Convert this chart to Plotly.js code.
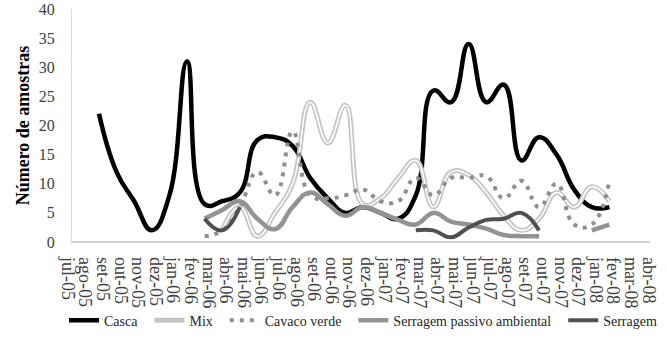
<!DOCTYPE html>
<html>
<head>
<meta charset="utf-8">
<script src="https://cdn.plot.ly/plotly-3.0.1.min.js"></script>
<style>html,body{margin:0;padding:0;background:#fff;}#chart{width:667px;height:340px;}</style>
</head>
<body>
<div id="chart"></div>
<script>
const months = ['jul-05','ago-05','set-05','out-05','nov-05','dez-05','jan-06','fev-06','mar-06','abr-06','mai-06','jun-06','jul-06','ago-06','set-06','out-06','nov-06','dez-06','jan-07','fev-07','mar-07','abr-07','mai-07','jun-07','jul-07','ago-07','set-07','out-07','nov-07','dez-07','jan-08','fev-08','mar-08','abr-08'];

const casca = [null,22,12,7,2,8,31,6.5,7,8.5,17.5,18,16.5,11,7.5,5,6,5,4,8,26,24,34,24,27,14,18,15,9,6,6,null,null,null];
const mix = [null,null,null,null,null,null,null,null,2,6,1,5,10,24,17,23.5,6.5,7.5,11,14,6,12,11.5,8.5,4.5,2,4,8.5,6,9.5,7,null,null,null];
const cavacoVerde = [null,null,null,null,null,null,null,1,2,6,12,8,19,8,7.5,8,9,7,7,11,8,11,11,11.3,7.5,10.5,6,10,3,3,10.5,null,null,null];
const serragemPassivo = [null,null,null,null,null,null,null,4,5.5,7,4,2.2,6,8.5,6.5,4.5,6,5,3.8,3,5,3.5,3,2.3,1.2,1,1,null,null,2,3,null,null,null];
const serragem = [null,null,null,null,null,null,null,4,2,6,null,null,null,null,null,null,null,null,null,2,2,0.8,2.5,3.8,4,5,2,null,null,null,null,null,null,null];

const names = ['Casca','Mix','Cavaco verde','Serragem passivo ambiental','Serragem'];
const yTitle = 'Número de amostras';

const SERIF = 'Liberation Serif';
const L = 60, R = 0, plotW = 667 - L - R;
const SM = 1.3;
const XR = [-1.216, 33.273];      // data axis range (category index units)
const LABEL_OFFSET = 0.778;        // tick labels sit ~13.7px left of the data points
const tickIdx = months.map((m, i) => i);
const PAD = '\u00a0\u00a0';        // extra legend spacing between entries

const traces = [
  {x: months, y: casca, name: names[0] + PAD, type: 'scatter', mode: 'lines',
   line: {color: '#000000', width: 4.5, shape: 'spline', smoothing: SM}},
  {x: months, y: mix, name: names[1] + PAD, type: 'scatter', mode: 'lines', legendgroup: 'mix',
   line: {color: '#c4c4c4', width: 5, shape: 'spline', smoothing: SM}},
  {x: months, y: mix, name: names[1], type: 'scatter', mode: 'lines', legendgroup: 'mix', showlegend: false,
   line: {color: '#ffffff', width: 1.6, shape: 'spline', smoothing: SM}},
  {x: months, y: cavacoVerde, name: names[2] + PAD, type: 'scatter', mode: 'lines',
   line: {color: '#8f8f8f', width: 4, dash: '4px,6px', shape: 'spline', smoothing: SM}},
  {x: months, y: serragemPassivo, name: names[3] + PAD, type: 'scatter', mode: 'lines',
   line: {color: '#939393', width: 4.5, shape: 'spline', smoothing: SM}},
  {x: months, y: serragem, name: names[4], type: 'scatter', mode: 'lines',
   line: {color: '#505050', width: 4, shape: 'spline', smoothing: SM}},
  // carrier for the tick-label axis (no visible marks)
  {x: tickIdx, y: tickIdx.map(() => null), xaxis: 'x2', yaxis: 'y', type: 'scatter', mode: 'lines',
   showlegend: false, hoverinfo: 'skip'}
];

const layout = {
  width: 667, height: 340,
  margin: {l: L, r: R, t: 9, b: 98},
  paper_bgcolor: '#ffffff', plot_bgcolor: '#ffffff',
  showlegend: true,
  font: {family: SERIF, color: '#404040'},
  xaxis: {
    type: 'category', categoryorder: 'array', categoryarray: months,
    range: XR,
    showline: false, showgrid: false, zeroline: false, ticks: '',
    showticklabels: false,
    fixedrange: true
  },
  xaxis2: {
    overlaying: 'x', anchor: 'y', side: 'bottom',
    type: 'linear',
    range: [XR[0] + LABEL_OFFSET, XR[1] + LABEL_OFFSET],
    tickmode: 'array', tickvals: tickIdx, ticktext: months,
    showline: false, showgrid: false, zeroline: false, ticks: '',
    tickangle: 90,
    tickfont: {family: SERIF, size: 18, color: '#404040'},
    ticklabelstandoff: 14,
    ticklabeloverflow: 'allow',
    fixedrange: true
  },
  yaxis: {
    range: [0, 40], dtick: 5, tick0: 0,
    anchor: 'free', position: 11 / plotW,
    showline: true, linecolor: '#d9d9d9', linewidth: 1,
    showgrid: false, zeroline: false, ticks: '',
    tickfont: {family: SERIF, size: 16, color: '#404040'},
    ticklabelstandoff: 13,
    ticklabeloverflow: 'allow',
    title: {text: yTitle, font: {family: SERIF, size: 18, color: '#000000', weight: 'bold'}, standoff: 3},
    fixedrange: true
  },
  shapes: [
    {type: 'line', xref: 'paper', yref: 'paper', x0: 11 / plotW, x1: 590 / plotW, y0: 0, y1: 0,
     layer: 'below', line: {color: '#d4d4d4', width: 2}}
  ],
  legend: {
    orientation: 'h', x: 4 / plotW, xanchor: 'left', y: -0.3376, yanchor: 'middle',
    font: {family: SERIF, size: 14, color: '#262626'},
    bgcolor: 'rgba(0,0,0,0)', itemwidth: 30, traceorder: 'normal'
  }
};

Plotly.newPlot('chart', traces, layout, {displayModeBar: false, staticPlot: true});
</script>
</body>
</html>
